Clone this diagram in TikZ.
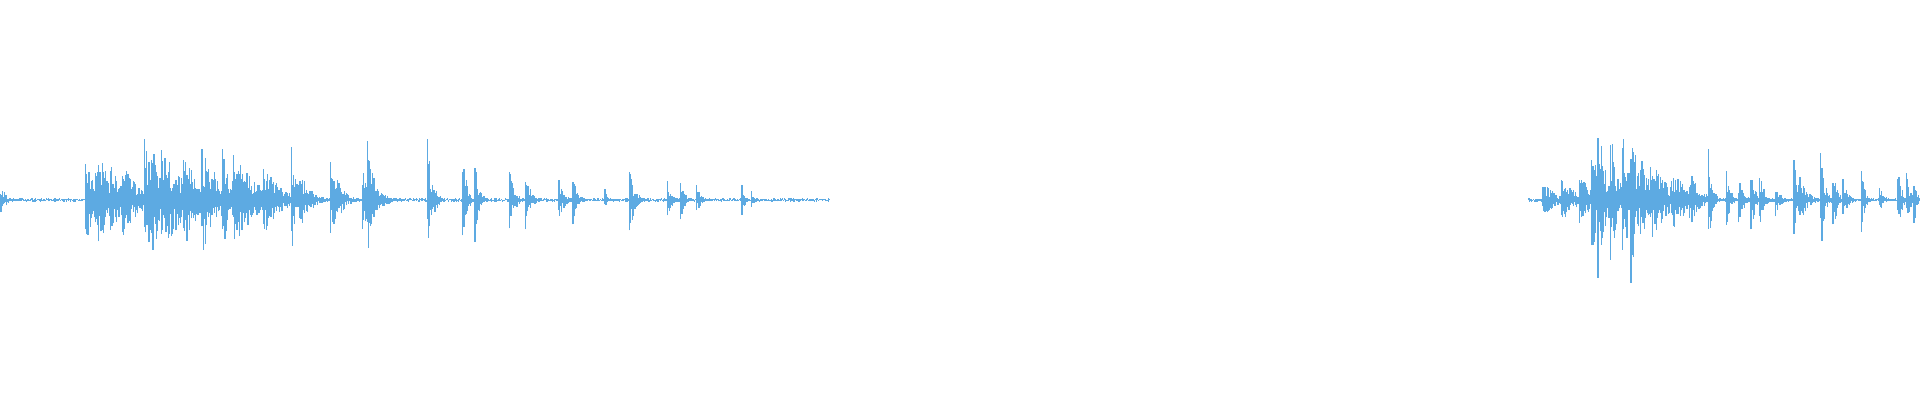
\documentclass[tikz,border=0pt]{standalone}
\definecolor{waveblue}{RGB}{93,170,226}
\tikzset{wave/.style={draw=waveblue,line width=0.35pt}}
\begin{document}
\begin{tikzpicture}[x=0.012245cm,y=0.012245cm]
    \pgfmathsetseed{11}
    \useasboundingbox (0,0) rectangle (1568,326.6);
    
    % baseline noise
    \foreach \s/\e in {0/678,1248/1568}
    {
        \pgfmathsetmacro\sn{\s+0.9}
        \foreach \x in {\s,\sn,...,\e}
            \draw[wave] (\x,{163.3-1.6*rnd}) -- (\x,{163.3+1.6*rnd});
    }
    
    % bursts: start / amplitude / decay
    \foreach \p/\a/\d in {0/12/6, 70/34/12, 78/45/15, 90/32/10, 100/34/12,
        118/68/6, 124/60/8, 132/45/20, 150/42/12, 165/45/15, 182/54/4,
        190/42/18, 215/34/12, 238/52/4, 245/28/8, 270/40/4, 275/22/6,
        296/28/10, 300/57/5, 349/50/4, 378/40/3, 388/37/3, 416/29/4,
        429/27/4, 456/22/4, 468/26/3, 494/9/2, 514/32/4, 545/22/3,
        556/20/3, 569/13/3, 606/17/2, 614/9/2,
        1260/16/10, 1275/22/10, 1290/28/8, 1300/48/6, 1305/70/6,
        1315/62/6, 1325/66/5, 1332/80/5, 1340/50/6, 1348/34/15,
        1365/30/12, 1380/25/8, 1395/44/3, 1410/28/3, 1420/20/4,
        1430/31/3, 1437/33/3, 1450/14/4, 1465/41/3, 1470/20/6,
        1487/48/3, 1497/33/3, 1505/17/4, 1520/28/3, 1535/14/3,
        1550/28/3, 1557/25/3, 1563/30/2}
    {
        \pgfmathsetmacro\len{3.5*\d}
        \foreach \i in {0,0.9,...,\len}
            \draw[wave] ({\p+\i},{163.3-\a*exp(-\i/\d)*(0.25+0.75*rnd)})
                -- ({\p+\i},{163.3+\a*exp(-\i/\d)*(0.25+0.75*rnd)});
    }
    
\end{tikzpicture}
\end{document}
